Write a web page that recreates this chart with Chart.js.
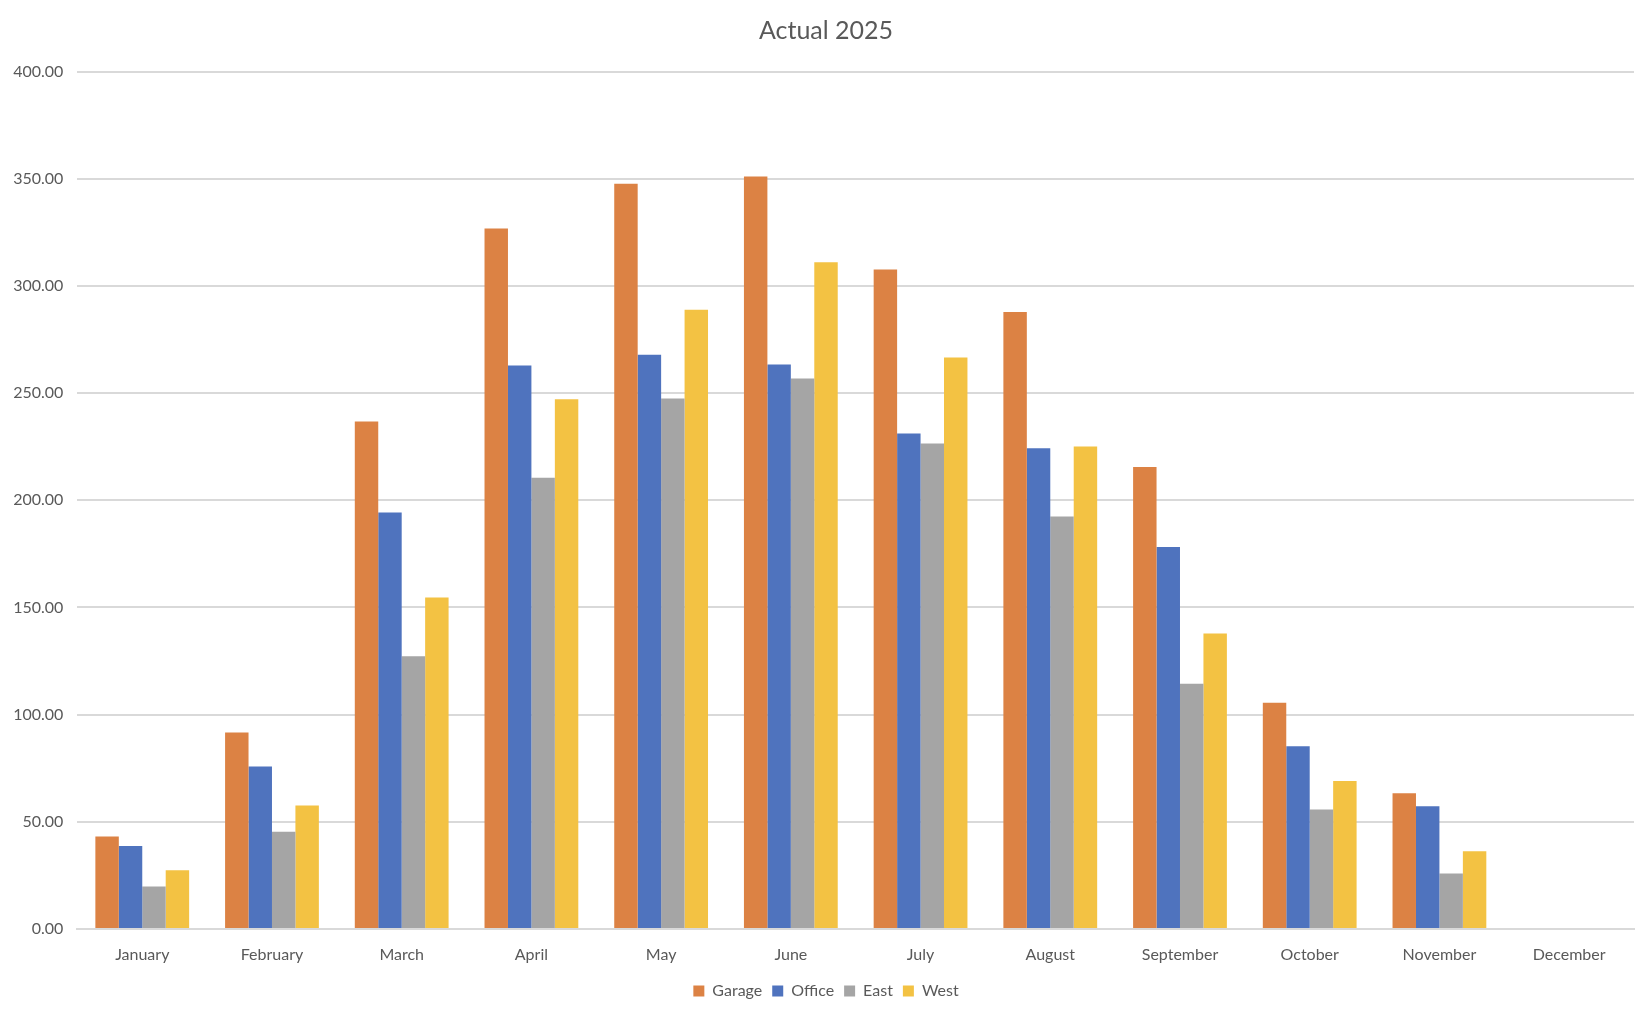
<!DOCTYPE html>
<html>
<head>
<meta charset="utf-8">
<script src="https://cdn.jsdelivr.net/npm/chart.js@4/dist/chart.umd.min.js"></script>
<style>
  html, body { margin: 0; padding: 0; background: #ffffff; }
  #wrap { width: 1652px; height: 1020px; position: relative; }
</style>
</head>
<body>
<div id="wrap"><canvas id="c" width="1652" height="1020"></canvas></div>
<script>
const months = ["January","February","March","April","May","June","July","August","September","October","November","December"];
const garage = [43.1, 91.7, 236.8, 326.8, 347.7, 351.1, 307.7, 287.8, 215.5, 105.6, 63.3, null];
const office = [38.7, 75.8, 194.3, 262.9, 267.9, 263.4, 231.2, 224.3, 178.2, 85.3, 57.3, null];
const east   = [19.8, 45.4, 127.2, 210.5, 247.5, 256.8, 226.5, 192.5, 114.4, 55.8, 25.9, null];
const west   = [27.4, 57.6, 154.7, 247.1, 288.9, 311.0, 266.6, 225.1, 137.9, 69.0, 36.3, null];
const seriesNames = ["Garage","Office","East","West"];
const yTicks = [0, 50, 100, 150, 200, 250, 300, 350, 400];
const titleText = "Actual 2025";

const colors = ["#DC8244", "#4F73BE", "#A5A5A5", "#F3C243"];
const FONT = "Lato, 'Open Sans', sans-serif";
const TXT = "#595959";

new Chart(document.getElementById('c'), {
  type: 'bar',
  data: {
    labels: months,
    datasets: [garage, office, east, west].map((d, i) => ({
      label: seriesNames[i],
      data: d,
      backgroundColor: colors[i],
      borderWidth: 0,
      categoryPercentage: 0.723,
      barPercentage: 1.0
    }))
  },
  options: {
    responsive: false,
    animation: false,
    devicePixelRatio: 1,
    layout: { padding: { left: 0, right: 0, top: 0, bottom: 11 } },
    plugins: {
      title: {
        display: true,
        text: titleText,
        color: TXT,
        font: { family: FONT, size: 25, weight: 'normal' },
        padding: { top: 16, bottom: 25.6 }
      },
      legend: {
        position: 'bottom',
        labels: {
          color: TXT,
          font: { family: FONT, size: 16 },
          boxWidth: 11,
          boxHeight: 11,
          padding: 10
        }
      },
      tooltip: { enabled: false }
    },
    scales: {
      x: {
        grid: { display: false, drawTicks: false },
        border: { display: true, color: '#d9d9d9', width: 2 },
        ticks: { color: TXT, font: { family: FONT, size: 16 }, padding: 16, maxRotation: 0, autoSkip: false },
        afterFit: (s) => { s.height = 44; }
      },
      y: {
        min: yTicks[0],
        max: yTicks[yTicks.length - 1],
        afterBuildTicks: (s) => { s.ticks = yTicks.map(v => ({ value: v })); },
        grid: { color: '#d9d9d9', lineWidth: 2, drawTicks: false },
        border: { display: false },
        ticks: {
          color: TXT,
          font: { family: FONT, size: 16 },
          padding: 14,
          callback: (v) => Number(v).toFixed(2)
        },
        afterFit: (s) => { s.width = 77.4; }
      },
      yRight: {
        position: 'right',
        display: true,
        min: 0,
        max: 1,
        grid: { display: false, drawTicks: false },
        border: { display: false },
        ticks: { display: false },
        afterFit: (s) => { s.width = 18; }
      }
    }
  }
});
</script>
</body>
</html>
